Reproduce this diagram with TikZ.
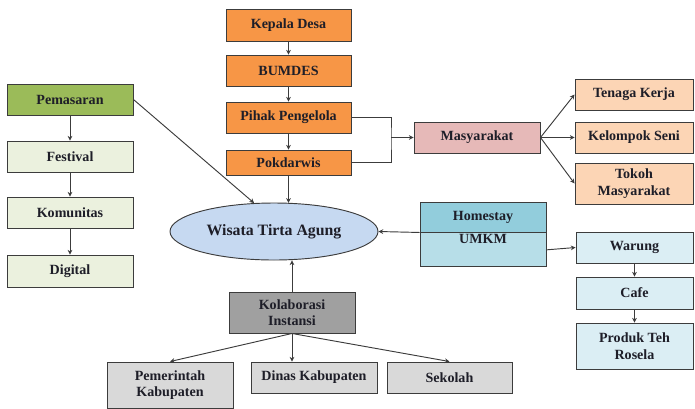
\documentclass[tikz,border=0pt]{standalone}
\usepackage{fontspec}
\setmainfont{Liberation Serif}
\usetikzlibrary{arrows.meta,shapes.geometric}

\definecolor{oranye}{RGB}{247,150,70}
\definecolor{hijau}{RGB}{155,187,89}
\definecolor{hijaumuda}{RGB}{235,241,222}
\definecolor{merahmuda}{RGB}{230,185,184}
\definecolor{persik}{RGB}{252,213,181}
\definecolor{biruelips}{RGB}{198,217,241}
\definecolor{tosca}{RGB}{146,205,220}
\definecolor{toscamuda}{RGB}{183,222,232}
\definecolor{birumuda}{RGB}{219,238,244}
\definecolor{abutua}{RGB}{160,160,160}
\definecolor{abumuda}{RGB}{217,217,217}
\definecolor{garis}{RGB}{60,60,60}
\definecolor{teks}{RGB}{30,30,40}

\begin{document}
\begin{tikzpicture}[x=0.03cm, y=-0.03cm,
                    box/.style={draw=garis, line width=0.8pt, minimum width=125*0.03cm,
                                inner sep=1pt, align=center, text=teks,
                                font=\fontsize{12}{14}\selectfont\bfseries},
                    arr/.style={draw=garis, line width=0.8pt, -{Stealth[length=4pt,width=4pt]}}]
                    \useasboundingbox (0,0) rectangle (695,408);

                    \node[box, fill=oranye, minimum height=32*0.03cm] (kepala) at (288.5,25) {Kepala Desa};
                    \node[box, fill=oranye, minimum height=31*0.03cm] (bumdes) at (288.5,70.5) {BUMDES};
                    \node[box, fill=oranye, minimum height=31*0.03cm] (pihak) at (288.5,117.5) {Pihak Pengelola};
                    \node[box, fill=oranye, minimum height=25*0.03cm] (pokdarwis) at (288.5,162.5) {Pokdarwis};
                    \draw[arr] (kepala) -- (bumdes);
                    \draw[arr] (bumdes) -- (pihak);
                    \draw[arr] (pihak) -- (pokdarwis);

                    \node[ellipse, draw=garis, line width=0.8pt, fill=biruelips, text=teks,
                          minimum width=208*0.03cm, minimum height=57*0.03cm,
                          font=\fontsize{13.5}{15}\selectfont\bfseries] (wisata) at (274,231.5) {Wisata Tirta Agung};
                    \draw[arr] (pokdarwis.south) -- (pokdarwis.south |- wisata.65);

                    \node[box, fill=hijau, minimum width=126*0.03cm, minimum height=31*0.03cm] (pemasaran) at (70,99.5) {Pemasaran};
                    \node[box, fill=hijaumuda, minimum width=126*0.03cm, minimum height=31*0.03cm] (festival) at (70,156.5) {Festival};
                    \node[box, fill=hijaumuda, minimum width=126*0.03cm, minimum height=31*0.03cm] (komunitas) at (70,212.5) {Komunitas};
                    \node[box, fill=hijaumuda, minimum width=126*0.03cm, minimum height=32*0.03cm] (digital) at (70,271) {Digital};
                    \draw[arr] (pemasaran) -- (festival);
                    \draw[arr] (festival) -- (komunitas);
                    \draw[arr] (komunitas) -- (digital);
                    \draw[arr] (pemasaran.east) -- (wisata.125);

                    \node[box, fill=merahmuda, minimum width=126*0.03cm, minimum height=31*0.03cm] (masyarakat) at (477,137.5) {Masyarakat};
                    \coordinate (gabung) at (391,137.5);
                    \draw[draw=garis, line width=0.8pt] (pihak.east) -| (gabung) |- (pokdarwis.east);
                    \draw[arr] (gabung) -- (masyarakat.west);

                    \node[box, fill=persik, minimum width=118*0.03cm, minimum height=31*0.03cm] (tenaga) at (634,94.5) {Tenaga Kerja};
                    \node[box, fill=persik, minimum width=118*0.03cm, minimum height=31*0.03cm] (kelompok) at (634,137.5) {Kelompok Seni};
                    \node[box, fill=persik, minimum width=118*0.03cm, minimum height=41*0.03cm] (tokoh) at (634,183.5) {Tokoh\\Masyarakat};
                    \draw[arr] (masyarakat.east) -- (tenaga.west);
                    \draw[arr] (masyarakat.east) -- (kelompok.west);
                    \draw[arr] (masyarakat.east) -- (tokoh.west);

                    \node[box, fill=tosca, minimum width=126*0.03cm, minimum height=30*0.03cm] (homestay) at (483,217) {Homestay};
                    \node[box, fill=toscamuda, minimum width=126*0.03cm, minimum height=30*0.03cm, anchor=north] (umkm) at (homestay.south) {UMKM\\[5pt]};
                    \draw[arr] (homestay.south west) -- (wisata.east);

                    \node[box, fill=birumuda, minimum width=117*0.03cm, minimum height=31*0.03cm] (warung) at (634.5,247.5) {Warung};
                    \node[box, fill=birumuda, minimum width=117*0.03cm, minimum height=32*0.03cm] (cafe) at (634.5,293) {Cafe};
                    \node[box, fill=birumuda, minimum width=117*0.03cm, minimum height=46*0.03cm] (produk) at (634.5,346) {Produk Teh\\Rosela};
                    \draw[arr] (umkm.east) -- (warung.west);
                    \draw[arr] (warung) -- (cafe);
                    \draw[arr] (cafe) -- (produk);

                    \node[box, fill=abutua, minimum width=126*0.03cm, minimum height=41*0.03cm] (kolaborasi) at (292,312.5) {Kolaborasi\\Instansi};
                    \draw[arr] (kolaborasi.north) -- (kolaborasi.north |- wisata.south);

                    \node[box, fill=abumuda, minimum width=126*0.03cm, minimum height=46*0.03cm] (pemerintah) at (170,385) {Pemerintah\\Kabupaten};
                    \node[box, fill=abumuda, minimum width=126*0.03cm, minimum height=31*0.03cm] (dinas) at (314,377.5) {Dinas Kabupaten};
                    \node[box, fill=abumuda, minimum width=125*0.03cm, minimum height=31*0.03cm] (sekolah) at (449.5,377.5) {Sekolah};
                    \draw[arr] (kolaborasi.south) -- (pemerintah.north);
                    \draw[arr] (kolaborasi.south) -- (kolaborasi.south |- dinas.north);
                    \draw[arr] (kolaborasi.south) -- (sekolah.north);

                \end{tikzpicture}
\end{document}
